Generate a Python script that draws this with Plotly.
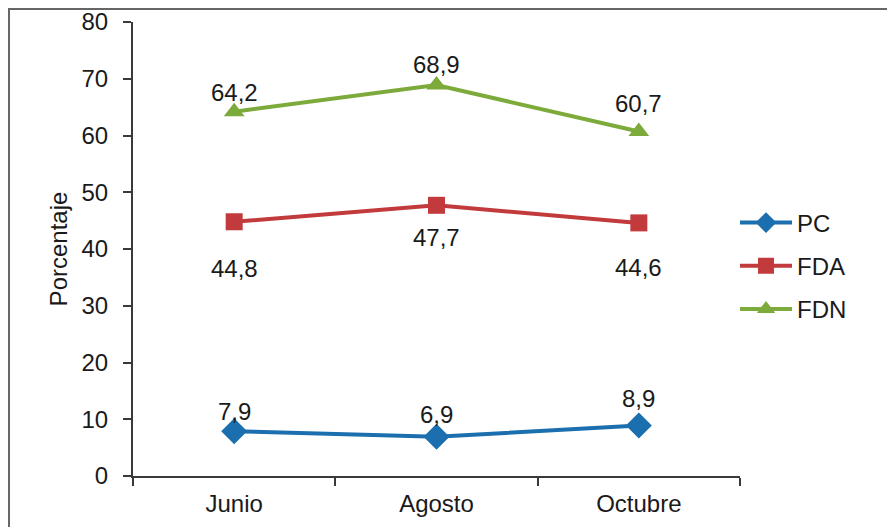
import plotly.graph_objects as go

meses = ["Junio", "Agosto", "Octubre"]
pc = [7.9, 6.9, 8.9]
fda = [44.8, 47.7, 44.6]
fdn = [64.2, 68.9, 60.7]

# desplazamiento vertical (px) de cada etiqueta respecto a su punto
despl_pc = [20, 22, 27]
despl_fda = [-47, -32, -45]
despl_fdn = [19, 20, 28]

def etiquetas(vals):
    return [f"{v:.1f}".replace(".", ",") for v in vals]

series = [
    ("PC", pc, "#1C6FAE", "diamond", 20, despl_pc),
    ("FDA", fda, "#C23A3C", "square", 17, despl_fda),
    ("FDN", fdn, "#7DAB3B", "triangle-up", 18, despl_fdn),
]

fig = go.Figure()
anotaciones = []
for nombre, vals, color, simbolo, tam, despl in series:
    fig.add_trace(go.Scatter(
        x=meses, y=vals, name=nombre, legendgroup=nombre,
        mode="lines+markers",
        line=dict(color=color, width=4),
        marker=dict(symbol=simbolo, size=tam, color=color)
    ))
    for m, v, t, d in zip(meses, vals, etiquetas(vals), despl):
        anotaciones.append(dict(x=m, y=v, text=t, showarrow=False,
                                yshift=d, font=dict(size=24, color="#1a1a1a")))

fig.update_layout(
    width=895, height=527,
    margin=dict(l=125, r=163, t=14, b=59, autoexpand=False),
    paper_bgcolor="white", plot_bgcolor="white",
    font=dict(family="Liberation Sans, Arial", size=24, color="#1a1a1a"),
    showlegend=True,
    legend=dict(x=0.9918, xanchor="left", y=0.4626, yanchor="middle",
                font=dict(size=24), tracegroupgap=9, itemwidth=52),
    annotations=anotaciones,
    xaxis=dict(showline=True, linecolor="#3a3a3a", linewidth=2,
               ticks="outside", tickson="boundaries", ticklen=8,
               tickcolor="#3a3a3a", tickwidth=2, showgrid=False,
               range=[-0.5, 2.5], automargin=False, ticklabelstandoff=5),
    yaxis=dict(title=dict(text="Porcentaje", font=dict(size=24), standoff=7),
               range=[0, 80], dtick=10, showline=True, linecolor="#3a3a3a",
               linewidth=2, ticks="outside", ticklen=8, tickcolor="#3a3a3a",
               tickwidth=2, showgrid=False, zeroline=False,
               ticklabelstandoff=10, automargin=False),
    shapes=[dict(type="rect", xref="paper", yref="paper",
                 x0=-0.2043, x1=1.3, y0=-0.2, y1=1.0286,
                 line=dict(color="#666", width=2))]
)

fig.write_html("out.html")
